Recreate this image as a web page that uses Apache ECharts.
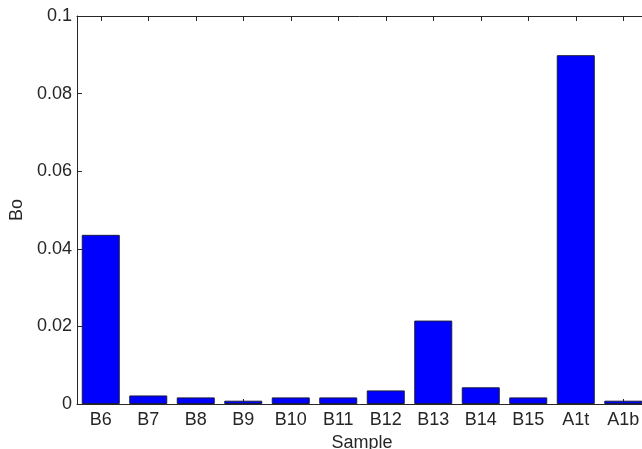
<!DOCTYPE html>
<html>
<head>
<meta charset="utf-8">
<script src="https://cdn.jsdelivr.net/npm/echarts@6/dist/echarts.min.js"></script>
<style>
  html, body { margin: 0; padding: 0; background: #fff; }
  #chart { width: 642px; height: 449px; }
</style>
</head>
<body>
<div id="chart"></div>
<script>
// Boron fraction per sample
const samples = ['B6', 'B7', 'B8', 'B9', 'B10', 'B11', 'B12', 'B13', 'B14', 'B15', 'A1t', 'A1b'];
const boValues = [0.0436, 0.0022, 0.0017, 0.00085, 0.0017, 0.0017, 0.0035, 0.0215, 0.0043, 0.0017, 0.0899, 0.00085];
const yTicks = [0, 0.02, 0.04, 0.06, 0.08, 0.1];

const FONT = 'Liberation Sans, Arial, Helvetica, sans-serif';
const INK = '#262626';
const FS = 18;

const chart = echarts.init(document.getElementById('chart'));

const boxAxisLine = { show: true, onZero: false, lineStyle: { color: INK, width: 1 } };
const innerTick = { show: true, inside: true, length: 5, lineStyle: { color: INK } };

chart.setOption({
  animation: false,
  grid: { left: 77, top: 16, width: 570, height: 388, outerBoundsMode: 'none', containLabel: false },
  xAxis: [
    {
      type: 'category',
      data: samples,
      position: 'bottom',
      name: 'Sample',
      nameLocation: 'middle',
      nameGap: 27,
      nameTextStyle: { fontFamily: FONT, fontSize: FS, color: INK },
      axisLine: boxAxisLine,
      axisTick: Object.assign({ alignWithLabel: true }, innerTick),
      axisLabel: { fontFamily: FONT, fontSize: FS, color: INK, margin: 7 },
      splitLine: { show: false }
    },
    {
      type: 'category',
      data: samples,
      position: 'top',
      axisLine: boxAxisLine,
      axisTick: Object.assign({ alignWithLabel: true }, innerTick),
      axisLabel: { show: false },
      splitLine: { show: false }
    }
  ],
  yAxis: [
    {
      type: 'value',
      position: 'left',
      min: yTicks[0],
      max: yTicks[yTicks.length - 1],
      interval: 0.02,
      name: 'Bo',
      nameLocation: 'middle',
      nameGap: 50,
      nameRotate: 90,
      nameTextStyle: { fontFamily: FONT, fontSize: FS, color: INK },
      axisLine: boxAxisLine,
      axisTick: innerTick,
      axisLabel: {
        fontFamily: FONT, fontSize: FS, color: INK, margin: 5,
        formatter: v => String(parseFloat(v.toFixed(4)))
      },
      splitLine: { show: false }
    },
    {
      type: 'value',
      position: 'right',
      min: yTicks[0],
      max: yTicks[yTicks.length - 1],
      interval: 0.02,
      axisLine: boxAxisLine,
      axisTick: innerTick,
      axisLabel: { show: false },
      splitLine: { show: false }
    }
  ],
  series: [
    {
      type: 'bar',
      data: boValues,
      xAxisIndex: 0,
      yAxisIndex: 0,
      barCategoryGap: '20%',
      itemStyle: { color: '#0000ff', borderColor: '#1a1a40', borderWidth: 1 }
    }
  ]
});
</script>
</body>
</html>
